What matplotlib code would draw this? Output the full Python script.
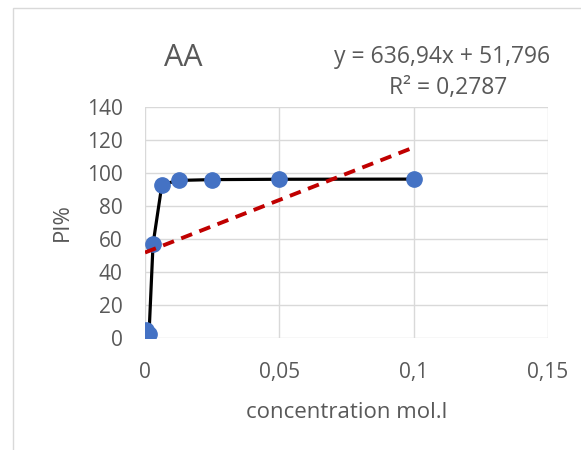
import matplotlib
matplotlib.use("Agg")
import matplotlib.pyplot as plt
from matplotlib.patches import Rectangle
import numpy as np

# Inhibition data for AA
concentration = [0.0005, 0.0015, 0.003, 0.0063, 0.0125, 0.025, 0.05, 0.1]
pi_percent = [5.0, 2.5, 57.0, 93.0, 95.5, 96.0, 96.2, 96.3]

# Linear trendline coefficients
slope = 636.94
intercept = 51.796
r_squared_label = "R² = 0,2787"
equation_label = "y = 636,94x + 51,796"

x_ticks = [0, 0.05, 0.1, 0.15]
x_tick_labels = ["0", "0,05", "0,1", "0,15"]
y_ticks = [0, 20, 40, 60, 80, 100, 120, 140]

text_color = "#595959"
grid_color = "#d9d9d9"
font = "Open Sans"

fig = plt.figure(figsize=(5.81, 4.5), dpi=100)
fig.patch.set_facecolor("white")
fig.patches.append(Rectangle((12.5 / 581, -0.01), 1.0, 1 - 8 / 450 + 0.01,
                             transform=fig.transFigure, fill=False,
                             edgecolor="#d9d9d9", linewidth=1.0))

ax = fig.add_axes([145 / 581, 1 - 338 / 450, (548 - 145) / 581, (338 - 107) / 450])
ax.set_xlim(0, 0.15)
ax.set_ylim(0, 140)
ax.set_xticks(x_ticks)
ax.set_xticklabels(x_tick_labels)
ax.set_yticks(y_ticks)
ax.grid(True, color=grid_color, linewidth=1.0)
ax.set_axisbelow(True)
for s in ax.spines.values():
    s.set_visible(False)
ax.tick_params(axis="y", length=0, pad=16, labelsize=15, labelcolor=text_color)
ax.tick_params(axis="x", length=0, pad=17, labelsize=15, labelcolor=text_color)
for lbl in ax.get_xticklabels() + ax.get_yticklabels():
    lbl.set_fontfamily(font)

ax.plot(concentration, pi_percent, color="black", linewidth=2.3,
        marker="o", markersize=11, markerfacecolor="#4472C4",
        markeredgecolor="#4472C4", zorder=3)

trend_x = np.array([0.0, max(concentration)])
ax.plot(trend_x, slope * trend_x + intercept, color="#C00000",
        linewidth=2.8, linestyle=(0, (3, 2)), zorder=4)

ax.set_xlabel("concentration mol.l", fontsize=16, color=text_color,
              fontfamily=font, labelpad=14)
ax.set_ylabel("PI%", fontsize=16, color=text_color, fontfamily=font, labelpad=10)

fig.text(183 / 581, 1 - 58 / 450, "AA", fontsize=22, color=text_color,
         fontfamily=font, ha="center", va="center")
fig.text(442 / 581, 1 - 57 / 450, equation_label, fontsize=16.5, color=text_color,
         fontfamily=font, ha="center", va="center")
fig.text(448 / 581, 1 - 88 / 450, r_squared_label, fontsize=16.5, color=text_color,
         fontfamily=font, ha="center", va="center")

fig.savefig("out.png", dpi=100)
